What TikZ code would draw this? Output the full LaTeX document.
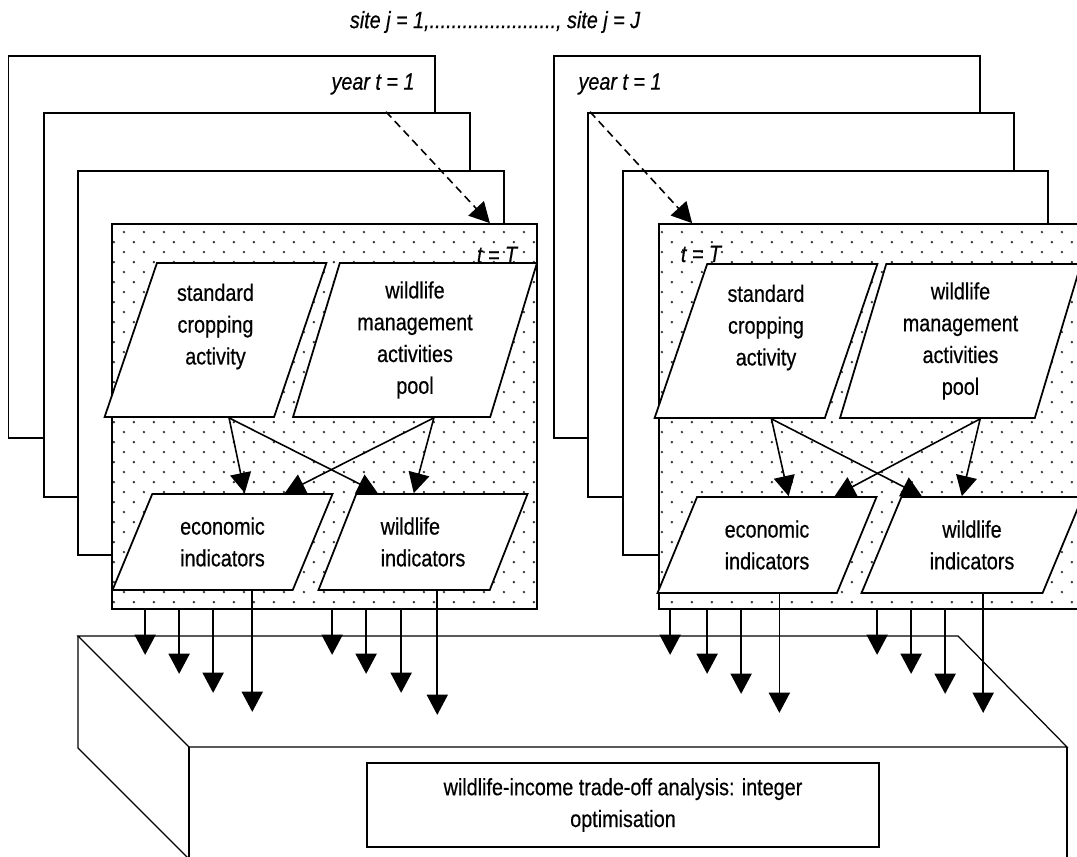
\documentclass[tikz,border=0pt]{standalone}
\usepackage{fontspec}
\setmainfont{Liberation Sans}[FakeStretch=0.84, FakeBold=0.5]
\usetikzlibrary{shapes.geometric,arrows.meta,calc,fit,patterns.meta}

\tikzdeclarepattern{
  name=sitedots,
  type=colored,
  bottom left={(0pt,0pt)},
  top right={(11.34pt,11.34pt)},
  tile size={(11.34pt,11.34pt)},
  code={
    \fill[black!80] (2.8pt,2.8pt) circle (0.75pt);
    \fill[black!80] (8.5pt,8.5pt) circle (0.75pt);
  }
}

\begin{document}
\begin{tikzpicture}[x=0.02cm, y=-0.02cm,
    every node/.style={font=\fontsize{13.4}{18.1}\selectfont},
    tag/.style={font=\fontsize{13.4}{18.1}\selectfont\itshape},
    yearframe/.style={draw, fill=white, line width=1pt, inner sep=0pt},
    dotframe/.style={draw, line width=1pt, inner sep=0pt, preaction={fill=white}, pattern=sitedots},
    activity/.style={trapezium, draw, fill=white, line width=1pt, trapezium left angle=73, trapezium right angle=107, trapezium stretches=true, minimum height=3.08cm, align=center, inner sep=0pt},
    indicator/.style={activity, trapezium left angle=64, trapezium right angle=116, minimum height=1.92cm},
    flow/.style={-{Triangle[length=11.5pt,width=12pt]}, line width=0.9pt},
    timelink/.style={flow, dash pattern=on 4.5pt off 2.8pt}]
        \useasboundingbox (0,0) rectangle (1077,856);
        \clip (0,0) rectangle (1077,856);
        % Year frames, site j=1
        \node[yearframe, fit={(8.5,56) (435,438)}] (lf1) {};
        \node[yearframe, fit={(44,113) (470,497)}] (lf2) {};
        \node[yearframe, fit={(78,171) (504,555)}] (lf3) {};
        \node[dotframe, fit={(112,224) (537,609)}] (lT) {};
        % Year frames, site j=J
        \node[yearframe, fit={(554,56) (980,438)}] (rf1) {};
        \node[yearframe, fit={(588,113) (1014,497)}] (rf2) {};
        \node[yearframe, fit={(623,171) (1048,555)}] (rf3) {};
        \node[dotframe, fit={(659,224) (1090,609)}] (rT) {};
        % Labels
        \node[tag] (title) at (495,22) {site j = 1,......................., site j = J};
        \node[tag] (lyear) at (373,84) {year t = 1};
        \node[tag] (ryear) at (620,84) {year t = 1};
        \node[tag] (ltT) at (497,255) {t = T};
        \node[tag] (rtT) at (701,254) {t = T};
        \draw[timelink] ($(lyear.south)+(13,11)$) -- ($(lT.north east)+(-48,0)$);
        \draw[timelink] ($(ryear.south)+(-30,11)$) -- ($(rT.north west)+(34,0)$);
        % Trade-off tray
        \draw[line width=0.7pt] (78,636) -- (958,636) -- (1067,747) -- (189,747) -- cycle;
        \draw[line width=0.7pt] (78,636) -- (78,748) -- (189,859);
        \draw[line width=0.7pt] (189,747) -- (189,860) (1067,747) -- (1067,860);
        \node[draw, line width=1pt, minimum width=10.24cm, minimum height=1.68cm, align=center] (tradeoff) at (623,805) {wildlife-income trade-off analysis: integer\\optimisation};
        % Activities and indicators, site j=1
        \node[activity, minimum width=4.46cm] (lstd) at (215.5,340) {standard\\cropping\\activity\\~};
        \node[activity, minimum width=4.88cm] (lpool) at (415,340) {wildlife\\management\\activities\\pool};
        \node[indicator, minimum width=4.42cm] (lecon) at (222.5,542) {economic\\indicators};
        \node[indicator, minimum width=4.2cm, align=left] (lwind) at (423,542) {wildlife\\indicators};
        % Activities and indicators, site j=J
        \node[activity, minimum width=4.48cm] (rstd) at (766,341) {standard\\cropping\\activity\\~};
        \node[activity, minimum width=4.82cm] (rpool) at (960.5,341) {wildlife\\management\\activities\\pool};
        \node[indicator, minimum width=4.4cm] (recon) at (767,545) {economic\\indicators};
        \node[indicator, minimum width=4.44cm] (rwind) at (972,545) {wildlife\\indicators};
        % Links
        \draw[flow] ($(lstd.bottom side)+(40,0)$) -- ($(lecon.top side)+(2,0)$);
        \draw[flow] ($(lstd.bottom side)+(40,0)$) -- ($(lwind.top side)+(-64.5,0)$);
        \draw[flow] ($(lpool.bottom side)+(42.5,0)$) -- ($(lwind.top side)+(-28.5,0)$);
        \draw[flow] ($(lpool.bottom side)+(42.5,0)$) -- ($(lecon.top side)+(42,0)$);
        \draw[flow] ($(rstd.bottom side)+(32,0)$) -- ($(recon.top side)+(1.5,0)$);
        \draw[flow] ($(rstd.bottom side)+(32,0)$) -- ($(rwind.top side)+(-70.5,0)$);
        \draw[flow] ($(rpool.bottom side)+(43,0)$) -- ($(rwind.top side)+(-30.5,0)$);
        \draw[flow] ($(rpool.bottom side)+(43,0)$) -- ($(recon.top side)+(47.5,0)$);
        % Outputs to the tray
        \foreach \dx/\len in {34/45, 68/64, 102/83, 221/45, 255/64, 290/83}
          \draw[flow] ($(lT.south west)+(\dx,0)$) -- ++(0,\len);
        \foreach \dx/\len in {12/45, 49/64, 83/84, 219/45, 253/64, 287/84}
          \draw[flow] ($(rT.south west)+(\dx,0)$) -- ++(0,\len);
        \draw[flow] ($(lecon.bottom side)+(50,0)$) -- ++(0,121);
        \draw[flow] ($(lwind.bottom side)+(33.5,0)$) -- ++(0,124);
        \draw[flow] ($(recon.bottom side)+(32.5,0)$) -- ++(0,119);
        \draw[flow] ($(rwind.bottom side)+(31.5,0)$) -- ++(0,119);
      \end{tikzpicture}
\end{document}
